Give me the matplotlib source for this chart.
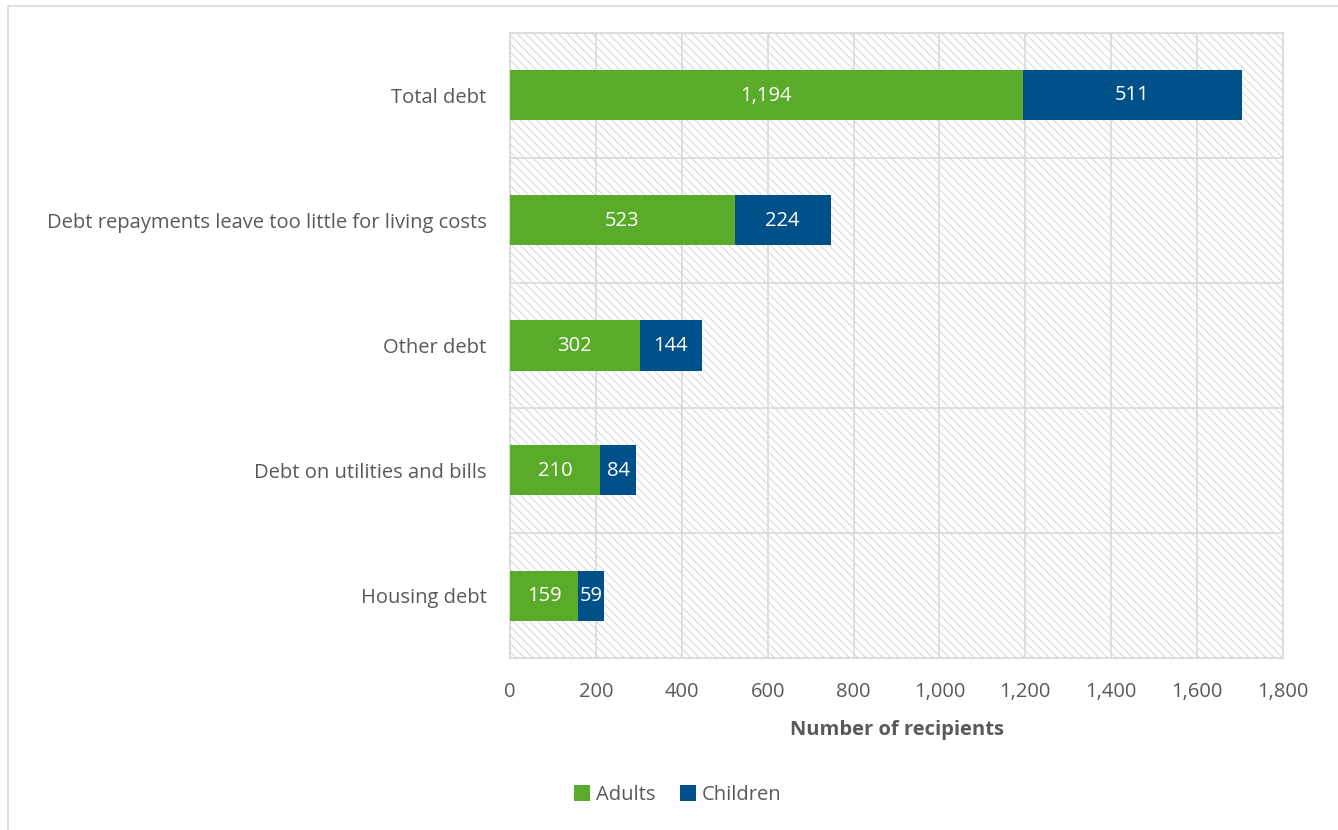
import matplotlib.pyplot as plt
from matplotlib.patches import Rectangle
from matplotlib.ticker import FuncFormatter

# Debt problems by recipient type
categories = ["Total debt",
              "Debt repayments leave too little for living costs",
              "Other debt",
              "Debt on utilities and bills",
              "Housing debt"]
adults = [1194, 523, 302, 210, 159]
children = [511, 224, 144, 84, 59]

green = "#5aab2a"
blue = "#00508a"
text_col = "#595959"

plt.rcParams["font.family"] = ["Open Sans", "DejaVu Sans"]
plt.rcParams["hatch.linewidth"] = 0.7

fig = plt.figure(figsize=(13.38, 8.3), dpi=100)
# chart border
fig.patches.append(Rectangle((8 / 1338, -0.1), 1.2, 1.1 - 6 / 830, transform=fig.transFigure,
                             fill=False, edgecolor="#d9d9d9", linewidth=1.2))
ax = fig.add_axes([510 / 1338, 1 - 658 / 830, 773 / 1338, 625 / 830])

# hatched plot area
ax.add_patch(Rectangle((0, 0), 1, 1, transform=ax.transAxes, facecolor="white",
                       hatch="\\\\\\\\", edgecolor="#d6d6d6", linewidth=0, zorder=0))

y = list(range(len(categories)))
bh = 0.4
ax.barh(y, adults, height=bh, color=green, label="Adults", zorder=3)
ax.barh(y, children, left=adults, height=bh, color=blue, label="Children", zorder=3)

fs = 14.5
for i in y:
    ax.text(adults[i] / 2, i, f"{adults[i]:,}", ha="center", va="center",
            color="white", fontsize=fs, zorder=4)
    ax.text(adults[i] + children[i] / 2, i, f"{children[i]:,}", ha="center", va="center",
            color="white", fontsize=fs, zorder=4)

ax.set_ylim(len(categories) - 0.5, -0.5)
ax.set_xlim(0, 1800)
ax.set_xticks(range(0, 1801, 200))
ax.xaxis.set_major_formatter(FuncFormatter(lambda v, p: f"{int(v):,}"))
ax.set_yticks(y)
ax.set_yticklabels(categories)
ax.set_yticks([i + 0.5 for i in range(-1, len(categories))], minor=True)
ax.grid(axis="x", which="major", color="#d9d9d9", linewidth=1.2, zorder=1)
ax.grid(axis="y", which="minor", color="#d9d9d9", linewidth=1.2, zorder=1)
ax.set_axisbelow(True)
ax.tick_params(axis="both", which="both", length=0, labelsize=fs, labelcolor=text_col)
ax.tick_params(axis="x", pad=17)
ax.tick_params(axis="y", pad=17)
for s in ax.spines.values():
    s.set_color("#d9d9d9")
    s.set_linewidth(1.2)

ax.set_xlabel("Number of recipients", fontsize=fs, fontweight="bold", color=text_col, labelpad=13)

fig.legend(loc="center", bbox_to_anchor=(678 / 1338, 1 - 795 / 830), ncol=2, frameon=False,
           fontsize=fs, handlelength=0.8, handleheight=0.8, handletextpad=0.3,
           columnspacing=1.2, labelcolor=text_col)

plt.savefig("out.png", dpi=100)
plt.close()
